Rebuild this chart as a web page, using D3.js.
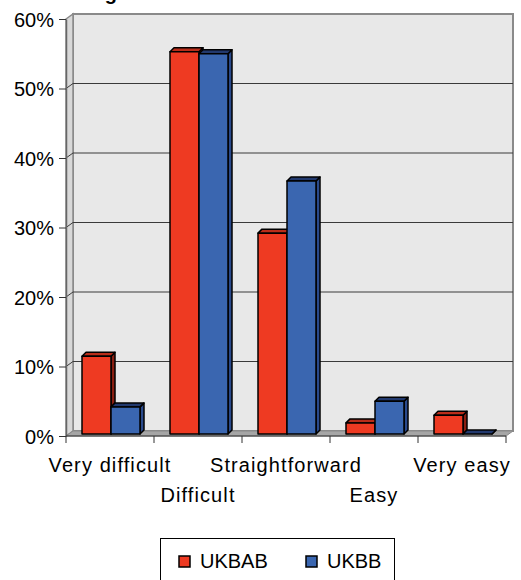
<!DOCTYPE html>
<html><head><meta charset="utf-8">
<script src="https://cdn.jsdelivr.net/npm/d3@7"></script>
<style>body{margin:0;background:#fff}svg{display:block}text{font-family:"Liberation Sans",Arial,sans-serif}</style>
</head><body>
<script>
const categories = ["Very difficult","Difficult","Straightforward","Easy","Very easy"];
const series = ["UKBAB","UKBB"];
const valuesUKBAB = [0.112, 0.550, 0.289, 0.016, 0.027];
const valuesUKBB  = [0.039, 0.547, 0.364, 0.047, 0.0];
const yTicks = [0,0.1,0.2,0.3,0.4,0.5,0.6];
const titleText = "Rating";

const W=521,H=580;
const svg=d3.select("body").append("svg").attr("width",W).attr("height",H);
const colors={UKBAB:{front:"#EE3A22",top:"#B92D1A",side:"#8A1F12"},UKBB:{front:"#3A66B0",top:"#22396E",side:"#2A4A8C"}};

const x0=66,x1=506,yBase=436,yTop=19;
const wdx=7,wdy=-5; // wall depth
const y=d3.scaleLinear().domain([0,0.6]).range([yBase,yTop]);
const x=d3.scaleBand().domain(categories).range([x0,x1]);
const xs=d3.scaleBand().domain(series).range([16,74]);

// title (cut off at top)
svg.append("text").attr("x",117).attr("y",0).attr("text-anchor","end")
  .attr("font-weight","bold").attr("font-size",20).text(titleText);

// back wall
svg.append("rect").attr("x",x0+wdx).attr("y",yTop+wdy).attr("width",x1-x0).attr("height",yBase-yTop)
  .attr("fill","#E8E8E8").attr("stroke","#8A8A8A").attr("stroke-width",2);
// left wall
svg.append("path").attr("d",`M${x0},${yTop}L${x0+wdx},${yTop+wdy}L${x0+wdx},${yBase+wdy}L${x0},${yBase}Z`)
  .attr("fill","#D8D8D8").attr("stroke","#8A8A8A").attr("stroke-width",1.5);
// floor
svg.append("path").attr("d",`M${x0},${yBase}L${x0+wdx},${yBase+wdy}L${x1+wdx},${yBase+wdy}L${x1},${yBase}Z`)
  .attr("fill","#A6A6A6").attr("stroke","#8A8A8A").attr("stroke-width",1);

// gridlines
yTicks.filter(t=>t>0&&t<0.6).forEach(t=>{
  svg.append("line").attr("x1",x0+wdx).attr("x2",x1+wdx).attr("y1",y(t)+wdy).attr("y2",y(t)+wdy)
    .attr("stroke","#3a3a3a").attr("stroke-width",1);
  svg.append("line").attr("x1",x0).attr("x2",x0+wdx).attr("y1",y(t)).attr("y2",y(t)+wdy)
    .attr("stroke","#3a3a3a").attr("stroke-width",1);
});

// y axis
const yAxis=d3.axisLeft(y).tickValues(yTicks).tickFormat(d3.format(".0%")).tickSize(7).tickSizeOuter(0);
const gy=svg.append("g").attr("transform",`translate(${x0},0)`).call(yAxis);
gy.select(".domain").attr("stroke","#666").attr("stroke-width",1.5);
gy.selectAll(".tick line").attr("stroke","#333");
gy.selectAll(".tick text").attr("font-size",20).attr("fill","#000").attr("x",-12).attr("dy","0.36em");

// x axis
const gx=svg.append("g").attr("transform",`translate(0,${yBase})`);
gx.append("line").attr("x1",x0).attr("x2",x1).attr("stroke","#333").attr("stroke-width",1.2);
categories.concat(["_end"]).forEach((c,i)=>{
  const xx=i<categories.length?x(c):x1;
  gx.append("line").attr("x1",xx).attr("x2",xx).attr("y1",0).attr("y2",7).attr("stroke","#333");
});
categories.forEach((c,i)=>{
  gx.append("text").attr("x",x(c)+x.bandwidth()/2).attr("y",i%2===0?36:66)
    .attr("text-anchor","middle").attr("font-size",20).attr("letter-spacing","1.1px").attr("fill","#000").text(c);
});

// bars
const bdx=4,bdy=-4,px=0,py=-2;
const data=[];
categories.forEach((c,i)=>{
  data.push({c,s:"UKBAB",v:valuesUKBAB[i]});
  data.push({c,s:"UKBB",v:valuesUKBB[i]});
});
const gb=svg.append("g");
data.forEach(d=>{
  const bx=x(d.c)+xs(d.s)+px, bw=xs.bandwidth();
  const yb=y(0)+py, yt=y(d.v)+py;
  const col=colors[d.s];
  const g=gb.append("g").attr("stroke","#000").attr("stroke-width",1.5).attr("stroke-linejoin","round");
  g.append("path").attr("d",`M${bx+bw},${yb}L${bx+bw+bdx},${yb+bdy}L${bx+bw+bdx},${yt+bdy}L${bx+bw},${yt}Z`).attr("fill",col.side);
  g.append("path").attr("d",`M${bx},${yt}L${bx+bdx},${yt+bdy}L${bx+bw+bdx},${yt+bdy}L${bx+bw},${yt}Z`).attr("fill",col.top);
  g.append("rect").attr("x",bx).attr("y",yt).attr("width",bw).attr("height",yb-yt).attr("fill",col.front);
});

// legend
const lg=svg.append("g");
lg.append("rect").attr("x",160.5).attr("y",538.5).attr("width",234).attr("height",60).attr("fill","#fff").attr("stroke","#000");
const lx=[179,306];
series.forEach((s,i)=>{
  lg.append("rect").attr("x",lx[i]).attr("y",556).attr("width",11).attr("height",11)
    .attr("fill",colors[s].front).attr("stroke","#000").attr("stroke-width",1.5);
  lg.append("text").attr("x",lx[i]+21).attr("y",568).attr("font-size",20).attr("fill","#000").text(s);
});
</script>
</body></html>
